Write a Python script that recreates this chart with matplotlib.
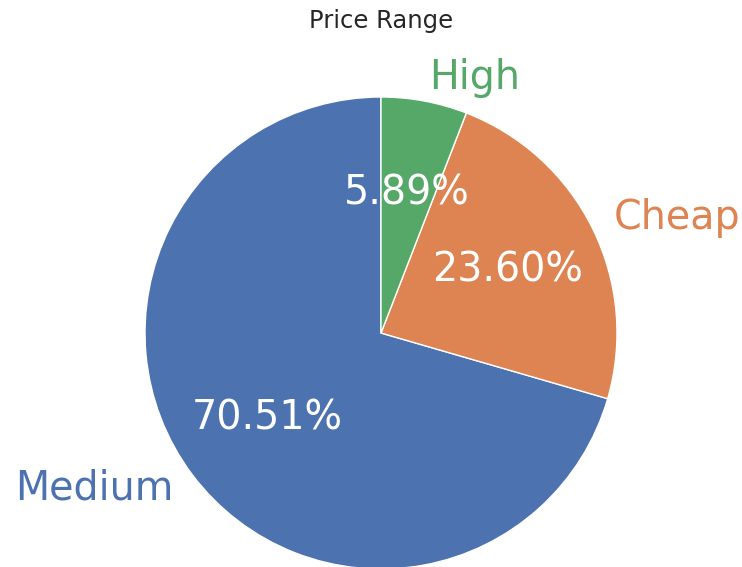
import matplotlib
matplotlib.use("Agg")
import matplotlib.pyplot as plt
import seaborn as sns

sns.set_theme()
plt.rcParams["font.family"] = ["DejaVu Sans"]

# share of listings per price bucket (percent)
categories = ["Medium", "Cheap", "High"]
shares = [70.51, 23.60, 5.89]

colors = sns.color_palette("deep")[:3]

fig = plt.figure(figsize=(7.42, 5.67), dpi=100)
ax = fig.add_axes([0, 0, 1, 1])

wedges, texts, autotexts = ax.pie(
    shares,
    labels=categories,
    colors=colors,
    startangle=90,
    autopct="%.2f%%",
    wedgeprops={"edgecolor": "white", "linewidth": 1},
    textprops={"fontsize": 28.5},
)
for text, wedge in zip(texts, wedges):
    text.set_color(wedge.get_facecolor())
for t in autotexts:
    t.set_color("white")

# keep the pie a bit to the left and cropped at the bottom
ax.set_xlim(-381 / 236, (742 - 381) / 236)
ax.set_ylim((333 - 567) / 236, 333 / 236)
ax.set_aspect("auto")
ax.axis("off")

fig.text(381 / 742, 1 - 21 / 567, "Price Range", ha="center", va="center",
         fontsize=17.5, color="#262626")

fig.savefig("out.png", dpi=100)
